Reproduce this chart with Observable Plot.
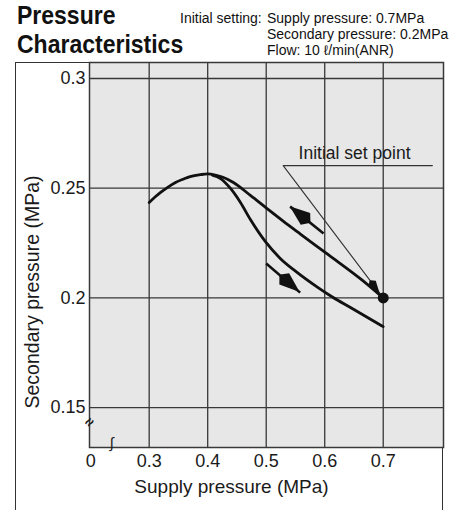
<!DOCTYPE html>
<html>
<head>
<meta charset="utf-8">
<script src="https://cdn.jsdelivr.net/npm/d3@7"></script>
<script src="https://cdn.jsdelivr.net/npm/@observablehq/plot@0.6"></script>
<style>
  html, body { margin: 0; padding: 0; background: #fff; }
  #wrap { position: relative; width: 467px; height: 510px; overflow: hidden; font-family: "Liberation Sans", Arial, sans-serif; color: #111; }
  #outer { position: absolute; left: 15px; top: 62px; width: 428px; height: 460px; border: 1.5px solid #333; border-bottom: none; box-sizing: border-box; }
  #title { position: absolute; left: 17px; top: 1px; font-weight: bold; font-size: 25px; line-height: 29px; transform: scaleX(0.92); transform-origin: left top; white-space: nowrap; }
  .sub { position: absolute; font-size: 14px; line-height: 16.2px; white-space: nowrap; }
  #chart { position: absolute; left: 0; top: 0; }
</style>
</head>
<body>
<div id="wrap">
  <div id="outer"></div>
  <div id="chart"></div>
  <div id="title">Pressure<br>Characteristics</div>
  <div class="sub" style="left:180px; top:10px;">Initial setting:</div>
  <div class="sub" style="left:267px; top:10px;">Supply pressure: 0.7MPa</div>
  <div class="sub" style="left:267px; top:26.2px;">Secondary pressure: 0.2MPa</div>
  <div class="sub" style="left:267px; top:42.4px;">Flow: 10 ℓ/min(ANR)</div>
</div>
<script>
// ---- data ----
const xTicks = [0.2, 0.3, 0.4, 0.5, 0.6, 0.7];
const xTickLabels = ["0", "0.3", "0.4", "0.5", "0.6", "0.7"];
const yTicks = [0.15, 0.2, 0.25, 0.3];
const yTickLabels = ["0.15", "0.2", "0.25", "0.3"];

// pressure decreasing path (upper curve, incl. common rising part)
const upperX = [0.300, 0.311, 0.319, 0.331, 0.345, 0.359, 0.370, 0.388, 0.400, 0.413, 0.425, 0.444, 0.473, 0.502, 0.529, 0.559, 0.606, 0.664, 0.700];
const upperY = [0.2435, 0.2462, 0.2480, 0.2503, 0.2526, 0.2542, 0.2553, 0.2562, 0.2565, 0.2560, 0.2551, 0.2526, 0.2467, 0.2406, 0.2350, 0.2290, 0.2197, 0.2081, 0.2000];
// pressure increasing path (lower branch)
const lowerX = [0.408, 0.422, 0.439, 0.456, 0.473, 0.499, 0.524, 0.550, 0.588, 0.613, 0.644, 0.700];
const lowerY = [0.2560, 0.2544, 0.2499, 0.2435, 0.2357, 0.2255, 0.2180, 0.2122, 0.2048, 0.2004, 0.1956, 0.1869];

// direction arrows (tail -> tip)
const arrowX1 = [0.598, 0.500];
const arrowY1 = [0.2293, 0.2157];
const arrowX2 = [0.541, 0.558];
const arrowY2 = [0.2416, 0.2024];

// initial set point and leader
const setX = [0.7];
const setY = [0.2];
const leaderX = [0.784, 0.529, 0.700];
const leaderY = [0.2603, 0.2603, 0.2000];
const noteText = ["Initial set point"];
const noteX = [0.651];
const noteY = [0.2603];

const upper = upperX.map((x, i) => ({x, y: upperY[i]}));
const lower = lowerX.map((x, i) => ({x, y: lowerY[i]}));
const arrows = arrowX1.map((x1, i) => ({x1, y1: arrowY1[i], x2: arrowX2[i], y2: arrowY2[i]}));
const leader = leaderX.map((x, i) => ({x, y: leaderY[i]}));
const setPt = setX.map((x, i) => ({x, y: setY[i]}));
const note = noteText.map((t, i) => ({t, x: noteX[i], y: noteY[i]}));

const ink = "#1a1a1a";
const grid = "#383838";

const plot = Plot.plot({
  width: 467,
  height: 510,
  marginLeft: 89,
  marginRight: 24,
  marginTop: 62,
  marginBottom: 63,
  x: {domain: [0.198, 0.803]},
  y: {domain: [0.1318, 0.3073]},
  style: {fontFamily: "'Liberation Sans', Arial, sans-serif", background: "transparent", color: ink, overflow: "visible"},
  marks: [
    Plot.frame({fill: "#e7e7e7"}),
    Plot.gridX(xTicks.slice(1), {stroke: grid, strokeOpacity: 1, strokeWidth: 1.3}),
    Plot.gridY(yTicks, {stroke: grid, strokeOpacity: 1, strokeWidth: 1.3}),
    Plot.frame({stroke: grid, strokeWidth: 1.5}),
    Plot.axisX(xTicks, {tickSize: 0, tickPadding: 7, fontSize: 18, label: null,
      tickFormat: d => xTickLabels[xTicks.indexOf(d)]}),
    Plot.axisY(yTicks, {tickSize: 0, tickPadding: 4, fontSize: 18, label: null,
      tickFormat: d => yTickLabels[yTicks.indexOf(d)]}),
    Plot.text(["Supply pressure (MPa)"], {frameAnchor: "bottom", dx: -35, dy: 45, fontSize: 19, fill: ink, style: "letter-spacing:0.1px"}),
    Plot.text(["Secondary pressure (MPa)"], {frameAnchor: "left", textAnchor: "middle", dx: -57, dy: 37, rotate: -90, fontSize: 19.5, fill: ink, style: "letter-spacing:0.2px"}),
    Plot.text(["≈"], {frameAnchor: "bottom-left", dx: 1, dy: -19, fontSize: 15, rotate: -50, fill: ink, fontWeight: "bold"}),
    Plot.text(["∫"], {frameAnchor: "bottom-left", dx: 20, dy: 0, fontSize: 15, fontStyle: "italic", fill: ink}),
    Plot.line(upper, {x: "x", y: "y", curve: "monotone-x", stroke: "#111", strokeWidth: 2.8}),
    Plot.line(lower, {x: "x", y: "y", curve: "monotone-x", stroke: "#111", strokeWidth: 2.8}),
    Plot.link(arrows, {x1: "x1", y1: "y1", x2: "x2", y2: "y2", stroke: "#111", strokeWidth: 2.6}),
    Plot.line(leader, {x: "x", y: "y", stroke: "#333", strokeWidth: 1.1}),
    Plot.dot(setPt, {x: "x", y: "y", r: 5.5, fill: "#111"}),
    Plot.text(note, {x: "x", y: "y", text: "t", lineAnchor: "bottom", dy: -7, fontSize: 17.5, fill: ink, style: "letter-spacing:0.4px"})
  ]
});

document.getElementById("chart").appendChild(plot);

// filled arrowheads placed through the plot's own scales
const xs = plot.scale("x"), ys = plot.scale("y");
const sx = d3.scaleLinear().domain(xs.domain).range(xs.range);
const sy = d3.scaleLinear().domain(ys.domain).range(ys.range);
const svg = d3.select(plot);
function head(x1, y1, x2, y2, L, w, back, fill) {
  const px1 = sx(x1), py1 = sy(y1), px2 = sx(x2), py2 = sy(y2);
  const a = Math.atan2(py2 - py1, px2 - px1);
  const tx = px2 - back * Math.cos(a), ty = py2 - back * Math.sin(a);
  const pts = [[0, 0], [-0.78 * L, w], [-L, 0.8], [-L, -0.8], [-0.78 * L, -w]].map(([u, v]) => [
    tx + u * Math.cos(a) - v * Math.sin(a),
    ty + u * Math.sin(a) + v * Math.cos(a)
  ]);
  svg.append("path").attr("d", "M" + pts.map(p => p.join(",")).join("L") + "Z").attr("fill", fill);
}
arrows.forEach(d => head(d.x1, d.y1, d.x2, d.y2, 26, 7.5, 0, "#111"));
head(leader[1].x, leader[1].y, leader[2].x, leader[2].y, 16, 4.5, 5, "#111");
</script>
</body>
</html>
